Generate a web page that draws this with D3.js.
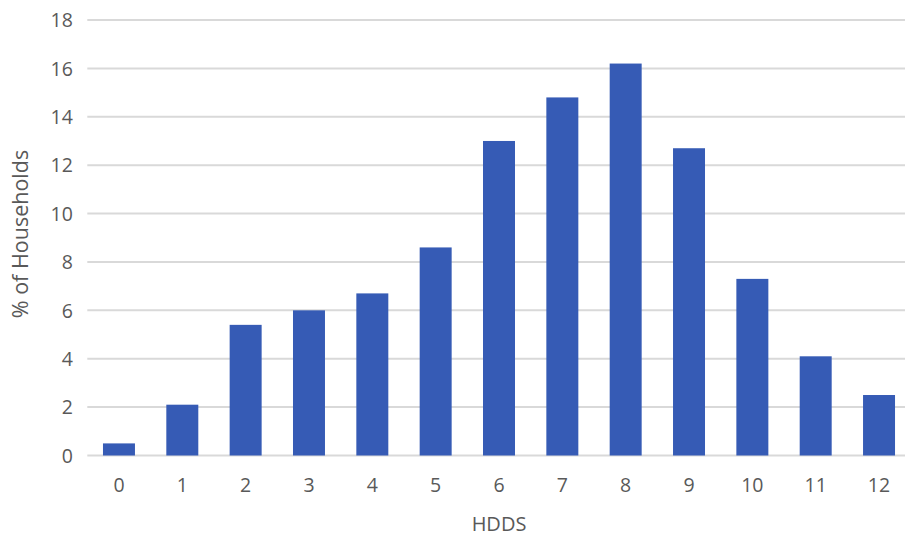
<!doctype html>
<html lang="en">
<head>
<meta charset="utf-8">
<title>HDDS</title>
<script src="https://cdn.jsdelivr.net/npm/d3@7"></script>
<style>
  body { margin: 0; background: #fff; }
  svg text { font-family: "Open Sans", "Liberation Sans", sans-serif; fill: #595959; }
</style>
</head>
<body>
<svg id="chart" width="905" height="538"></svg>
<script>
  // data
  var hdds = ["0", "1", "2", "3", "4", "5", "6", "7", "8", "9", "10", "11", "12"];
  var households = [0.5, 2.1, 5.4, 6.0, 6.7, 8.6, 13.0, 14.8, 16.2, 12.7, 7.3, 4.1, 2.5];
  var yTicks = [0, 2, 4, 6, 8, 10, 12, 14, 16, 18];

  var svg = d3.select("#chart");
  var plotLeft = 87.3, plotRight = 910.7, plotTop = 20, plotBottom = 455.5;

  var x = d3.scaleBand().domain(hdds).range([plotLeft, plotRight]).paddingInner(0.495).paddingOuter(0.2475);
  var y = d3.scaleLinear().domain([0, 18]).range([plotBottom, plotTop]);

  // gridlines
  svg.append("g")
    .selectAll("line")
    .data(yTicks)
    .enter().append("line")
    .attr("x1", plotLeft).attr("x2", 905)
    .attr("y1", function(d) { return y(d); })
    .attr("y2", function(d) { return y(d); })
    .attr("stroke", "#d9d9d9")
    .attr("stroke-width", 2);

  // bars
  svg.append("g")
    .selectAll("rect")
    .data(households)
    .enter().append("rect")
    .attr("x", function(d, i) { return x(hdds[i]); })
    .attr("y", function(d) { return y(d); })
    .attr("width", x.bandwidth())
    .attr("height", function(d) { return plotBottom - y(d); })
    .attr("fill", "#365bb5");

  // y axis labels
  var yAxis = svg.append("g")
    .attr("transform", "translate(" + (plotLeft - 14.5) + ",0)")
    .call(d3.axisLeft(y).tickValues(yTicks).tickSize(0).tickPadding(0));
  yAxis.select(".domain").remove();
  yAxis.selectAll("text").style("font-size", "19.5px").attr("dy", "0.35em");

  // x axis labels
  var xAxis = svg.append("g")
    .attr("transform", "translate(0," + plotBottom + ")")
    .call(d3.axisBottom(x).tickSize(0));
  xAxis.select(".domain").remove();
  xAxis.selectAll("text").style("font-size", "19.5px").attr("dy", "0.35em").attr("y", 30);

  svg.append("text")
    .attr("transform", "translate(20.5,234) rotate(-90)")
    .attr("text-anchor", "middle")
    .attr("dy", "0.35em")
    .style("font-size", "21.5px")
    .text("% of Households");

  svg.append("text")
    .attr("x", 499).attr("y", 531)
    .attr("text-anchor", "middle")
    .style("font-size", "20px")
    .text("HDDS");
</script>
</body>
</html>
